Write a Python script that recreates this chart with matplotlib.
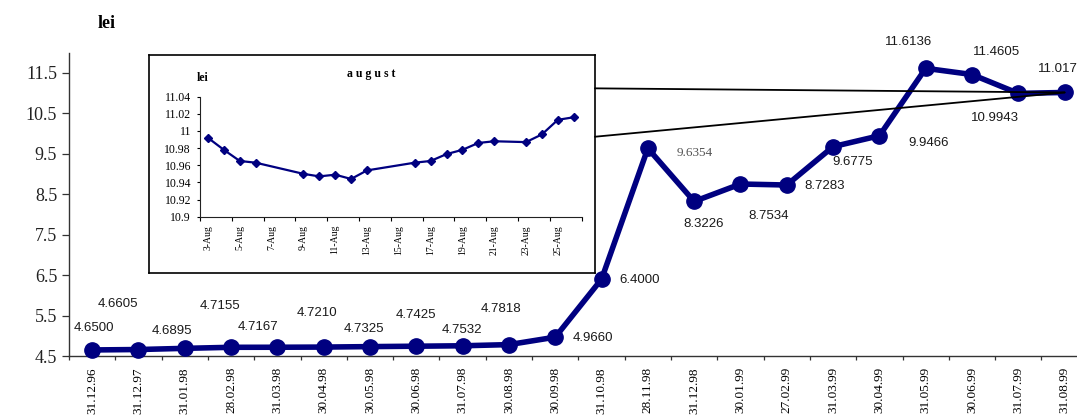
import matplotlib
matplotlib.use("Agg")
import matplotlib.pyplot as plt
import numpy as np
from matplotlib.patches import ConnectionPatch


# main series: exchange rate, lei
dates = ["31.12.96", "31.12.97", "31.01.98", "28.02.98", "31.03.98", "30.04.98",
         "30.05.98", "30.06.98", "31.07.98", "30.08.98", "30.09.98", "31.10.98",
         "28.11.98", "31.12.98", "30.01.99", "27.02.99", "31.03.99", "30.04.99",
         "31.05.99", "30.06.99", "31.07.99", "31.08.99"]
rates = [4.6500, 4.6605, 4.6895, 4.7155, 4.7167, 4.7210, 4.7325, 4.7425, 4.7532,
         4.7818, 4.9660, 6.4000, 9.6354, 8.3226, 8.7534, 8.7283, 9.6775, 9.9466,
         11.6136, 11.4605, 10.9943, 11.017]

# label offsets in pixels (dx, dy up)
label_dx = [2, -21, -13, -11, -19, -7, -6, 0, -1, -8, 38, 38, 47, 9, 28, 38, 20, 49, -17, 25, -23, -3]
label_dy = [22, 46, 17, 41, 20, 34, 18, 31, 16, 36, -1, -1, -5, -23, -32, -1, -15, -7, 26, 23, -25, 23]

# inset: daily rates in august
aug_days = [3, 4, 5, 6, 9, 10, 11, 12, 13, 16, 17, 18, 19, 20, 21, 23, 24, 25, 26]
aug_rates = [10.992, 10.978, 10.965, 10.963, 10.950, 10.947, 10.949, 10.944, 10.954,
             10.963, 10.965, 10.973, 10.978, 10.986, 10.988, 10.987, 10.996, 11.013, 11.016]

NAVY = "#000080"
SERIF = "Liberation Serif"
SANS = "Liberation Sans"


def main():
  fig = plt.figure(figsize=(10.77, 4.16), dpi=100)
  ax = fig.add_axes([0.0641, 0.1442, 0.9459, 0.7291])

  x = np.arange(len(dates))
  ax.plot(x, rates, color=NAVY, lw=4, marker="o", ms=11,
          solid_joinstyle="round", clip_on=False, zorder=3)
  ax.set_xlim(-0.5, len(dates) - 0.5)
  ax.set_ylim(4.5, 12)

  for i, v in enumerate(rates):
    serif = (i == 12)
    ax.annotate(f"{v:.4f}", xy=(i, v), xytext=(label_dx[i], label_dy[i]),
                textcoords="offset pixels", ha="center", va="center",
                fontsize=9.5, family=SERIF if serif else SANS,
                color="#555555" if serif else "#1a1a1a", annotation_clip=False)

  ax.set_yticks(np.arange(4.5, 12, 1.0))
  ax.set_yticklabels([f"{t:.1f}" for t in np.arange(4.5, 12, 1.0)],
                     family=SERIF, fontsize=13, color="#222222")
  ax.tick_params(axis="y", length=5, width=0.9, pad=3.5, color="#333333")

  ax.set_xticks(x)
  ax.set_xticklabels(dates, rotation=90, family=SERIF, fontsize=9.5, va="top")
  ax.set_xticks(np.arange(-0.5, len(dates), 1.0), minor=True)
  ax.tick_params(axis="x", which="major", length=0, pad=8)
  ax.tick_params(axis="x", which="minor", length=3, width=0.9, color="#333333")

  for side in ("top", "right"):
    ax.spines[side].set_visible(False)
  for side in ("left", "bottom"):
    ax.spines[side].set_color("#333333")
    ax.spines[side].set_linewidth(1.0)

  fig.text(107 / 1077, 1 - 23 / 416, "lei", family=SERIF, fontweight="bold",
           fontsize=13, ha="center", va="center")

  # inset frame
  box = fig.add_axes([0.1383, 0.3438, 0.4141, 0.524], zorder=4)
  box.set_xticks([])
  box.set_yticks([])
  for sp in box.spines.values():
    sp.set_color("black")
    sp.set_linewidth(1.2)

  ins = fig.add_axes([0.1857, 0.4791, 0.3544, 0.2885], zorder=5)
  ins.patch.set_alpha(0)
  ins.plot(aug_days, aug_rates, color=NAVY, lw=1.6, marker="D", ms=4.5)
  ins.set_xlim(2.5, 26.5)
  ins.set_ylim(10.9, 11.04)
  yt = np.round(np.arange(10.9, 11.041, 0.02), 2)
  ins.set_yticks(yt)
  ins.set_yticklabels([f"{t:g}" for t in yt], family=SERIF, fontsize=8.5)
  ins.tick_params(axis="y", length=2.5, width=0.8, pad=4)
  xt = np.arange(3, 26, 2)
  ins.set_xticks(xt)
  ins.set_xticklabels([f"{d}-Aug" for d in xt], rotation=90, family=SERIF,
                      fontsize=7, va="top")
  ins.set_xticks(np.arange(2.5, 27, 2), minor=True)
  ins.tick_params(axis="x", which="major", length=0, pad=6)
  ins.tick_params(axis="x", which="minor", length=3, width=0.8)
  for side in ("top", "right"):
    ins.spines[side].set_visible(False)
  for side in ("left", "bottom"):
    ins.spines[side].set_linewidth(0.8)
    ins.spines[side].set_color("#222222")

  fig.text(203 / 1077, 1 - 78 / 416, "lei", family=SERIF, fontweight="bold",
           fontsize=8.5, ha="center", va="center", zorder=6)
  fig.text(371 / 1077, 1 - 74 / 416, "a u g u s t", family=SERIF, fontweight="bold",
           fontsize=8.5, ha="center", va="center", zorder=6)

  # lines joining the inset to the last point
  for frac in (0.847, 0.625):
    con = ConnectionPatch(xyA=(1, frac), coordsA=box.transAxes,
                          xyB=(x[-1], rates[-1]), coordsB=ax.transData,
                          color="black", lw=1.3, zorder=6)
    fig.add_artist(con)

  fig.savefig("out.png", dpi=100)
  plt.close(fig)


if __name__ == "__main__":
  main()
